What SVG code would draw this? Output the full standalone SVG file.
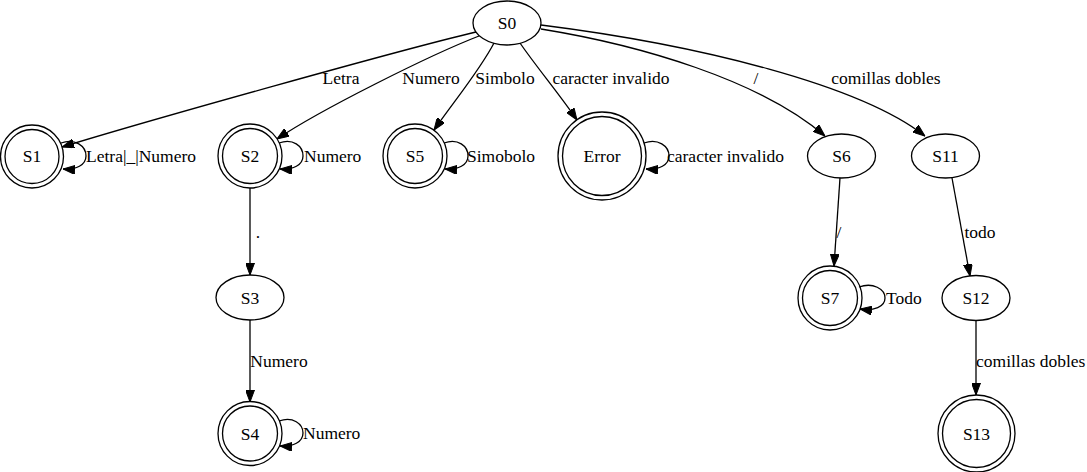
<svg xmlns="http://www.w3.org/2000/svg" width="1087" height="472" viewBox="0 0 1087 472">
<style>
.n ellipse, .n circle { fill: none; stroke: #000; stroke-width: 1.3; }
text { font-family: "Liberation Serif", Tinos, "Times New Roman", "Nimbus Roman", "DejaVu Serif", serif; font-size: 17.5px; fill: #000; }
.c { text-anchor: middle; }
.e path { fill: none; stroke: #000; stroke-width: 1.3; marker-end: url(#ah); }
</style>
<defs>
<marker id="ah" markerUnits="userSpaceOnUse" markerWidth="12" markerHeight="9" refX="12" refY="4.5" orient="auto">
<path d="M0,0 L12,4.5 L0,9 z" fill="#000" stroke="#000" stroke-width="1"/>
</marker>
</defs>
<rect width="1087" height="472" fill="#fff"/>

<g id="edges" class="e">
<path d="M476,32 C400,50 150,120 62,147"/>
<path d="M479,36 C430,55 320,110 277,139"/>
<path d="M494,43 C480,70 455,100 434,130"/>
<path d="M520,43 C535,65 560,95 577,120"/>
<path d="M541,29 C640,45 760,80 825,136"/>
<path d="M541,25 C700,45 860,85 925,136"/>
<path d="M61,143 C75,138 86,146 86,156 C86,165 76,170 63,169"/>
<path d="M279,143 C293,138 303,146 303,156 C303,165 293,170 280,169"/>
<path d="M444,143 C458,138 468,146 468,156 C468,165 458,170 445,169"/>
<path d="M644,143 C658,138 669,146 669,156 C669,165 659,170 646,169"/>
<path d="M859,287 C873,282 885,289 885,298 C885,307 874,311 860,309"/>
<path d="M279,421 C293,416 303,424 303,433 C303,442 293,447 280,446"/>
<path d="M250,188 L250,275"/>
<path d="M250,320 L250,402"/>
<path d="M840,178 L834,266"/>
<path d="M952,178 L970,276"/>
<path d="M976,321 L976,395"/>
<text class="c" x="341" y="84">Letra</text>
<text class="c" x="431" y="84">Numero</text>
<text class="c" x="505" y="84">Simbolo</text>
<text class="c" x="611" y="84">caracter invalido</text>
<text class="c" x="756" y="84">/</text>
<text class="c" x="886" y="84">comillas dobles</text>
<text x="86" y="162">Letra|_|Numero</text>
<text x="304" y="162">Numero</text>
<text x="467" y="162">Simobolo</text>
<text x="667" y="162">caracter invalido</text>
<text x="886" y="304">Todo</text>
<text x="303" y="439">Numero</text>
<text class="c" x="258" y="238">.</text>
<text class="c" x="279" y="367">Numero</text>
<text class="c" x="839" y="238">/</text>
<text class="c" x="980" y="238">todo</text>
<text x="976" y="367">comillas dobles</text>
</g>

<g id="S0" class="n"><ellipse cx="507" cy="23" rx="34" ry="22"/><text class="c" x="507" y="29">S0</text></g>
<g id="S1" class="n"><circle cx="32" cy="156.5" r="31.5"/><circle cx="32" cy="156.5" r="27"/><text class="c" x="32" y="162">S1</text></g>
<g id="S2" class="n"><circle cx="250" cy="156" r="32"/><circle cx="250" cy="156" r="27.5"/><text class="c" x="250" y="162">S2</text></g>
<g id="S5" class="n"><circle cx="415" cy="156" r="32"/><circle cx="415" cy="156" r="27.5"/><text class="c" x="415" y="162">S5</text></g>
<g id="Error" class="n"><circle cx="602" cy="156" r="44"/><circle cx="602" cy="156" r="39.5"/><text class="c" x="602" y="162">Error</text></g>
<g id="S6" class="n"><ellipse cx="841.5" cy="156" rx="34" ry="22"/><text class="c" x="841.5" y="162">S6</text></g>
<g id="S11" class="n"><ellipse cx="945.5" cy="156" rx="34" ry="22"/><text class="c" x="945.5" y="162">S11</text></g>
<g id="S3" class="n"><ellipse cx="250" cy="297.5" rx="34" ry="22.5"/><text class="c" x="250" y="303.5">S3</text></g>
<g id="S4" class="n"><circle cx="250" cy="433.5" r="32"/><circle cx="250" cy="433.5" r="27.5"/><text class="c" x="250" y="439.5">S4</text></g>
<g id="S7" class="n"><circle cx="830" cy="298" r="32"/><circle cx="830" cy="298" r="27.5"/><text class="c" x="830" y="304">S7</text></g>
<g id="S12" class="n"><ellipse cx="976" cy="298" rx="34" ry="22.5"/><text class="c" x="976" y="304">S12</text></g>
<g id="S13" class="n"><circle cx="976.5" cy="433.5" r="38.5"/><circle cx="976.5" cy="433.5" r="34"/><text class="c" x="976.5" y="439.5">S13</text></g>
</svg>
